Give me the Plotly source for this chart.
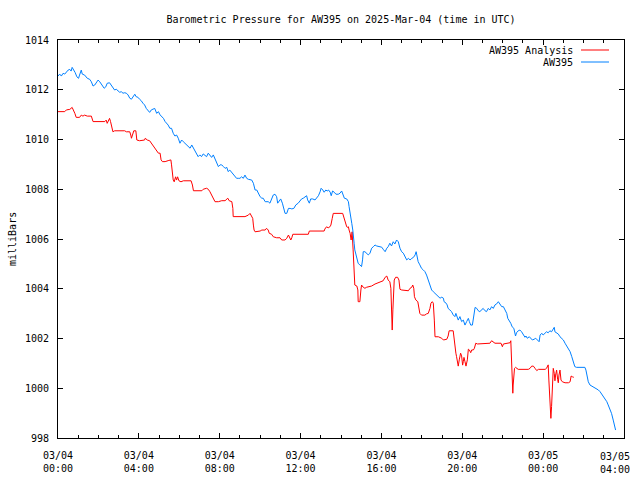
import pandas as pd
import plotly.graph_objects as go

# ---- data: (minutes after 2025-03-04 00:00 UTC, pressure in mb) ----
aw395_obs = [
    (0, 1012.55), (5, 1012.63), (10, 1012.55), (15, 1012.66), (20, 1012.63), (25, 1012.73), (30, 1012.79),
    (35, 1012.82), (39, 1012.75), (42, 1012.90), (47, 1012.79), (51, 1012.69), (56, 1012.52), (61, 1012.46),
    (64, 1012.59), (69, 1012.79), (72, 1012.63), (79, 1012.59), (87, 1012.46), (94, 1012.42), (99, 1012.32),
    (104, 1012.15), (109, 1012.19), (114, 1012.32), (119, 1012.39), (124, 1012.32), (129, 1012.23),
    (137, 1012.06), (142, 1012.12), (146, 1012.26), (153, 1012.28), (158, 1012.19), (163, 1012.06),
    (168, 1011.99), (173, 1012.02), (178, 1011.95), (183, 1011.90), (188, 1011.92), (193, 1011.86),
    (198, 1011.88), (203, 1011.86), (208, 1011.79), (213, 1011.66), (218, 1011.62), (223, 1011.75),
    (228, 1011.82), (232, 1011.72), (237, 1011.70), (242, 1011.62), (247, 1011.56), (252, 1011.46),
    (257, 1011.39), (262, 1011.25), (267, 1011.19), (272, 1011.09), (277, 1011.19), (282, 1011.21),
    (287, 1011.25), (293, 1011.05), (298, 1011.12), (303, 1010.99), (308, 1010.92), (313, 1010.85),
    (318, 1010.72), (323, 1010.65), (327, 1010.58), (332, 1010.45), (337, 1010.45), (342, 1010.25),
    (347, 1010.14), (352, 1010.18), (357, 1010.05), (362, 1009.85), (367, 1009.98), (372, 1009.91),
    (377, 1009.85), (382, 1009.78), (387, 1009.71), (392, 1009.65), (397, 1009.78), (402, 1009.65),
    (407, 1009.51), (412, 1009.38), (416, 1009.31), (421, 1009.38), (426, 1009.31), (431, 1009.42),
    (436, 1009.38), (441, 1009.31), (446, 1009.45), (451, 1009.38), (456, 1009.28), (461, 1009.38),
    (466, 1009.24), (471, 1009.11), (476, 1008.91), (481, 1008.98), (486, 1008.98), (491, 1008.91),
    (496, 1008.84), (501, 1008.88), (505, 1008.71), (510, 1008.77), (516, 1008.67), (520, 1008.57),
    (525, 1008.50), (530, 1008.44), (535, 1008.44), (540, 1008.44), (545, 1008.50), (550, 1008.44),
    (555, 1008.57), (560, 1008.44), (565, 1008.40), (570, 1008.40), (575, 1008.37), (580, 1008.24),
    (585, 1007.97), (590, 1007.97), (594, 1007.84), (600, 1007.70), (605, 1007.64), (609, 1007.64),
    (615, 1007.50), (624, 1007.50), (629, 1007.44), (634, 1007.64), (639, 1007.77), (644, 1007.80),
    (649, 1007.70), (652, 1007.44), (657, 1007.53), (661, 1007.61), (666, 1007.44), (669, 1007.30),
    (674, 1007.03), (679, 1007.03), (684, 1007.23), (689, 1007.23), (694, 1007.21), (700, 1007.23),
    (706, 1007.37), (713, 1007.44), (718, 1007.53), (723, 1007.61), (728, 1007.64), (733, 1007.70),
    (738, 1007.74), (741, 1007.57), (746, 1007.44), (750, 1007.61), (756, 1007.61), (763, 1007.57),
    (768, 1007.64), (773, 1007.74), (778, 1007.90), (781, 1008.04), (786, 1007.97), (790, 1007.88),
    (795, 1007.97), (799, 1007.93), (803, 1007.97), (808, 1007.88), (811, 1007.74), (815, 1007.93),
    (820, 1007.88), (825, 1007.80), (832, 1007.80), (837, 1007.84), (842, 1007.93), (845, 1007.84),
    (850, 1007.64), (857, 1007.61), (862, 1007.50), (864, 1007.30), (867, 1007.10), (870, 1006.83),
    (872, 1006.63), (875, 1006.36), (876, 1006.09), (879, 1005.83), (881, 1005.56), (884, 1005.36),
    (887, 1005.16), (891, 1005.02), (896, 1004.96), (901, 1004.89), (904, 1005.16), (906, 1005.49),
    (911, 1005.49), (916, 1005.43), (921, 1005.36), (926, 1005.43), (931, 1005.63), (936, 1005.69),
    (941, 1005.76), (946, 1005.72), (956, 1005.69), (961, 1005.67), (965, 1005.59), (971, 1005.49),
    (976, 1005.63), (980, 1005.69), (985, 1005.83), (990, 1005.72), (995, 1005.89), (1000, 1005.80),
    (1005, 1005.96), (1010, 1005.89), (1015, 1005.63), (1020, 1005.49), (1025, 1005.43), (1030, 1005.29),
    (1035, 1005.16), (1040, 1005.22), (1045, 1005.16), (1050, 1005.22), (1055, 1005.26), (1060, 1005.36),
    (1063, 1005.49), (1065, 1005.36), (1069, 1005.09), (1074, 1004.96), (1079, 1004.82), (1084, 1004.76),
    (1089, 1004.69), (1094, 1004.55), (1099, 1004.35), (1104, 1004.08), (1109, 1003.95), (1114, 1003.88),
    (1119, 1003.82), (1124, 1003.75), (1129, 1003.68), (1134, 1003.62), (1139, 1003.66), (1144, 1003.62),
    (1146, 1003.48), (1152, 1003.42), (1155, 1003.35), (1158, 1003.21), (1163, 1003.15), (1168, 1003.08),
    (1173, 1002.95), (1178, 1002.88), (1181, 1003.01), (1185, 1002.81), (1188, 1002.74), (1193, 1002.88),
    (1198, 1002.68), (1203, 1002.74), (1208, 1002.54), (1213, 1002.68), (1218, 1002.81), (1221, 1002.68),
    (1225, 1002.54), (1230, 1002.54), (1233, 1002.88), (1236, 1003.15), (1238, 1003.25), (1243, 1003.21),
    (1247, 1003.12), (1252, 1003.08), (1258, 1003.15), (1262, 1003.21), (1267, 1003.12), (1272, 1003.08),
    (1277, 1003.21), (1282, 1003.15), (1287, 1003.28), (1292, 1003.21), (1297, 1003.35), (1302, 1003.39),
    (1307, 1003.48), (1312, 1003.35), (1317, 1003.28), (1322, 1003.28), (1327, 1003.12), (1332, 1003.01),
    (1335, 1002.81), (1340, 1002.72), (1344, 1002.61), (1348, 1002.47), (1353, 1002.41), (1358, 1002.10),
    (1361, 1002.23), (1366, 1002.31), (1371, 1002.34), (1376, 1002.27), (1381, 1002.14), (1386, 1002.05),
    (1389, 1002.10), (1393, 1002.01), (1399, 1002.07), (1403, 1002.01), (1408, 1001.94), (1413, 1001.97),
    (1418, 1002.01), (1423, 1001.94), (1428, 1001.87), (1431, 1002.14), (1436, 1002.21), (1440, 1002.14),
    (1445, 1002.23), (1450, 1002.27), (1455, 1002.23), (1460, 1002.31), (1465, 1002.27), (1470, 1002.41),
    (1473, 1002.45), (1475, 1002.27), (1480, 1002.21), (1485, 1002.18), (1490, 1002.07), (1495, 1002.01),
    (1500, 1001.94), (1505, 1001.81), (1510, 1001.70), (1515, 1001.61), (1520, 1001.47), (1525, 1001.27),
    (1529, 1001.07), (1534, 1000.87), (1539, 1000.84), (1564, 1000.84), (1567, 1000.73), (1571, 1000.46),
    (1574, 1000.26), (1579, 1000.13), (1584, 1000.09), (1589, 1000.06), (1594, 1000.02), (1599, 999.96),
    (1604, 999.93), (1609, 999.86), (1614, 999.77), (1618, 999.69), (1623, 999.60), (1629, 999.46),
    (1633, 999.33), (1638, 999.19), (1643, 998.99), (1648, 998.72), (1653, 998.48), (1655, 998.32),
]

analysis_obs = [
    (0, 1011.12), (10, 1011.12), (20, 1011.12), (25, 1011.19), (35, 1011.21), (42, 1011.29), (45, 1011.21),
    (50, 1011.05), (54, 1010.89), (64, 1010.89), (69, 1010.98), (74, 1010.94), (79, 1010.98), (87, 1010.94),
    (99, 1010.94), (104, 1010.72), (139, 1010.72), (143, 1010.78), (146, 1010.65), (150, 1010.76),
    (153, 1010.85), (156, 1010.72), (160, 1010.51), (163, 1010.31), (168, 1010.35), (198, 1010.35),
    (203, 1010.31), (213, 1010.31), (216, 1010.18), (218, 1010.05), (221, 1010.18), (225, 1010.35),
    (231, 1010.35), (234, 1009.98), (242, 1009.95), (252, 1009.95), (257, 1009.98), (259, 1010.05),
    (265, 1009.98), (272, 1009.95), (277, 1009.85), (282, 1009.74), (287, 1009.65), (293, 1009.51),
    (298, 1009.45), (303, 1009.45), (306, 1009.18), (310, 1009.11), (318, 1009.11), (327, 1009.15),
    (335, 1009.18), (337, 1008.98), (339, 1008.64), (342, 1008.37), (345, 1008.30), (349, 1008.50),
    (352, 1008.37), (355, 1008.50), (359, 1008.34), (365, 1008.30), (372, 1008.34), (395, 1008.34),
    (399, 1008.17), (402, 1007.94), (427, 1007.94), (431, 1008.00), (441, 1008.04), (446, 1008.00),
    (451, 1007.90), (456, 1007.77), (461, 1007.60), (466, 1007.50), (476, 1007.50), (486, 1007.54),
    (496, 1007.54), (501, 1007.60), (504, 1007.64), (508, 1007.54), (516, 1007.50), (519, 1007.23),
    (520, 1006.90), (555, 1006.90), (560, 1006.92), (565, 1006.96), (570, 1007.03), (575, 1006.92),
    (578, 1006.83), (580, 1006.56), (582, 1006.36), (585, 1006.29), (594, 1006.29), (600, 1006.32),
    (605, 1006.36), (615, 1006.36), (619, 1006.43), (624, 1006.36), (627, 1006.23), (634, 1006.19),
    (639, 1006.09), (649, 1006.05), (659, 1006.05), (664, 1005.96), (674, 1005.96), (679, 1006.03),
    (684, 1006.16), (687, 1006.09), (691, 1005.96), (694, 1006.05), (697, 1006.19), (743, 1006.19),
    (746, 1006.32), (790, 1006.32), (792, 1006.40), (797, 1006.49), (802, 1006.45), (807, 1006.49),
    (810, 1006.56), (814, 1006.83), (817, 1007.03), (845, 1007.03), (849, 1006.83), (852, 1006.63),
    (857, 1006.49), (860, 1006.47), (862, 1006.49), (864, 1006.36), (867, 1006.23), (870, 1005.96),
    (872, 1006.09), (873, 1006.29), (876, 1005.56), (878, 1004.89), (879, 1004.35), (881, 1004.15),
    (887, 1004.11), (890, 1003.95), (891, 1003.48), (896, 1003.48), (899, 1003.95), (901, 1004.15),
    (906, 1004.06), (911, 1004.02), (916, 1004.06), (921, 1004.08), (931, 1004.11), (941, 1004.19),
    (951, 1004.24), (961, 1004.28), (965, 1004.32), (971, 1004.46), (976, 1004.51), (980, 1004.35),
    (985, 1004.28), (988, 1004.02), (990, 1003.15), (992, 1002.34), (994, 1003.15), (996, 1003.95),
    (998, 1004.35), (1002, 1004.46), (1008, 1004.46), (1012, 1004.35), (1015, 1003.98), (1020, 1003.95),
    (1030, 1003.95), (1040, 1003.92), (1045, 1004.02), (1050, 1004.06), (1053, 1004.15), (1056, 1004.02),
    (1058, 1003.68), (1062, 1003.55), (1068, 1003.48), (1071, 1003.28), (1074, 1003.01), (1079, 1002.94),
    (1089, 1002.94), (1094, 1002.99), (1099, 1003.01), (1104, 1003.21), (1107, 1003.42), (1111, 1003.48),
    (1114, 1003.42), (1117, 1002.74), (1119, 1002.07), (1129, 1002.07), (1139, 1002.01), (1144, 1001.94),
    (1149, 1001.94), (1154, 1001.97), (1158, 1002.10), (1161, 1002.31), (1173, 1002.31), (1175, 1002.01),
    (1178, 1001.61), (1181, 1001.41), (1183, 1001.27), (1186, 1001.07), (1188, 1000.89), (1191, 1001.14),
    (1195, 1001.41), (1198, 1001.30), (1201, 1000.93), (1203, 1001.07), (1205, 1001.24), (1208, 1001.07),
    (1211, 1000.89), (1215, 1001.14), (1218, 1001.57), (1221, 1001.54), (1225, 1001.43), (1228, 1001.54),
    (1233, 1001.54), (1236, 1001.61), (1240, 1001.81), (1245, 1001.78), (1282, 1001.81), (1287, 1001.91),
    (1292, 1001.87), (1297, 1001.81), (1315, 1001.81), (1319, 1001.67), (1322, 1001.78), (1332, 1001.81),
    (1342, 1001.83), (1344, 1001.91), (1346, 1001.14), (1347, 1000.33), (1350, 999.80), (1351, 1000.13),
    (1353, 1000.46), (1355, 1000.80), (1358, 1000.84), (1366, 1000.76), (1396, 1000.76), (1401, 1000.80),
    (1406, 1000.89), (1411, 1000.89), (1416, 1000.80), (1421, 1000.71), (1426, 1000.76), (1446, 1000.76),
    (1450, 1000.80), (1455, 1000.94), (1457, 1000.33), (1460, 999.26), (1463, 998.79), (1465, 999.26),
    (1467, 1000.33), (1470, 1000.80), (1473, 1000.60), (1475, 1000.30), (1477, 1000.53), (1480, 1000.73),
    (1483, 1000.36), (1485, 1000.22), (1487, 1000.53), (1490, 1000.73), (1493, 1000.33), (1497, 1000.26),
    (1505, 1000.22), (1515, 1000.22), (1520, 1000.26), (1523, 1000.49), (1527, 1000.46), (1531, 1000.44),
]

series_names = ["AW395 Analysis", "AW395"]
series_colors = ["#ff0000", "#0080ff"]
tick_labels = ["03/04<br>00:00", "03/04<br>04:00", "03/04<br>08:00", "03/04<br>12:00",
               "03/04<br>16:00", "03/04<br>20:00", "03/05<br>00:00", "03/05<br>04:00"]
y_ticks = [998, 1000, 1002, 1004, 1006, 1008, 1010, 1012, 1014]

base = pd.Timestamp("2025-03-04 00:00")
def to_time(obs):
    return [base + pd.Timedelta(minutes=m) for m, _ in obs]
def to_val(obs):
    return [v for _, v in obs]

tick_vals = [base + pd.Timedelta(hours=4 * i) for i in range(len(tick_labels))]
# the last label would overflow the page; it is drawn separately, nudged inward like gnuplot does
axis_ticktext = tick_labels[:-1] + [""]

FONT = "DejaVu Sans Mono"

fig = go.Figure()
fig.add_trace(go.Scatter(x=to_time(analysis_obs), y=to_val(analysis_obs), mode="lines",
                         name=series_names[0], line=dict(color=series_colors[0], width=1)))
fig.add_trace(go.Scatter(x=to_time(aw395_obs), y=to_val(aw395_obs), mode="lines",
                         name=series_names[1], line=dict(color=series_colors[1], width=1)))

fig.update_layout(
    width=640, height=480,
    margin=dict(l=58, r=16, t=40, b=42, autoexpand=False),
    paper_bgcolor="white", plot_bgcolor="white",
    showlegend=False,
    font=dict(family=FONT, size=10, color="black"),
    title=dict(text="Barometric Pressure for AW395 on 2025-Mar-04 (time in UTC)",
               x=0.5, xref="paper", xanchor="center",
               y=1 - 19 / 480, yref="container", yanchor="middle",
               font=dict(family=FONT, size=10, color="black")),
)

fig.update_xaxes(
    range=[tick_vals[0], tick_vals[-1]], automargin=False,
    tickmode="array", tickvals=tick_vals, ticktext=axis_ticktext,
    ticks="inside", ticklen=5, tickcolor="black", tickwidth=1,
    minor=dict(tickmode="linear", tick0=base, dtick=3600000, ticks="inside",
               ticklen=3, tickcolor="black", showgrid=False),
    showline=True, linecolor="black", linewidth=1, mirror="allticks",
    showgrid=False, zeroline=False, ticklabelstandoff=8,
    tickfont=dict(family=FONT, size=10, color="black"),
)
fig.update_yaxes(
    range=[998, 1014], tickmode="array", tickvals=y_ticks, automargin=False,
    ticks="inside", ticklen=5, tickcolor="black", tickwidth=1,
    showline=True, linecolor="black", linewidth=1, mirror="allticks",
    showgrid=False, zeroline=False, ticklabelstandoff=6,
    tickfont=dict(family=FONT, size=10, color="black"),
)

# last x tick label, shifted left to stay inside the page
fig.add_annotation(text=tick_labels[-1], xref="paper", yref="paper",
                   x=1.0, xshift=-9, y=0, yshift=-12, xanchor="center", yanchor="top",
                   showarrow=False, borderpad=0,
                   font=dict(family=FONT, size=10, color="black"))

# y-axis title
fig.add_annotation(text="milliBars", xref="paper", yref="paper",
                   x=(12 - 58) / 566, y=0.5, xanchor="center", yanchor="middle",
                   textangle=-90, showarrow=False, font=dict(family=FONT, size=10, color="black"))

# gnuplot-style legend (text right, sample line to the right)
legend_rows_y = [(438 - 50) / 398, (438 - 62) / 398]
for name, color, yy in zip(series_names, series_colors, legend_rows_y):
    fig.add_annotation(text=name, xref="paper", yref="paper", x=(575 - 58) / 566, y=yy,
                       xanchor="right", yanchor="middle", showarrow=False,
                       font=dict(family=FONT, size=10, color="black"))
    fig.add_shape(type="line", xref="paper", yref="paper",
                  x0=(581 - 58) / 566, x1=(609 - 58) / 566, y0=yy, y1=yy,
                  line=dict(color=color, width=1))

fig.write_html("out.html")
